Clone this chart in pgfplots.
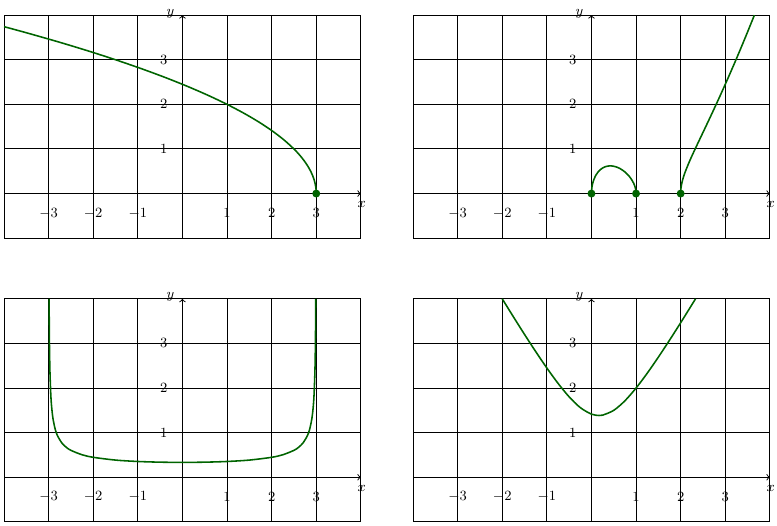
\documentclass[border=0pt]{standalone}
\usepackage{pgfplots}
\pgfplotsset{compat=1.18}
\definecolor{curve}{RGB}{0,100,0}
\pgfplotsset{
  panel/.style={
    x=1cm, y=1cm,
    xmin=-4, xmax=4, ymin=-1, ymax=4,
    clip=false,
    axis lines=middle,
    axis line style={line width=0.6pt, ->},
    xtick={-4,...,4}, ytick={-1,...,4},
    xticklabels={,$-3$,$-2$,$-1$,,$1$,$2$,$3$,},
    yticklabels={,,$1$,$2$,$3$,},
    major tick length=0pt,
    grid=major,
    grid style={black, line width=0.6pt},
    tick label style={font=\small},
    xticklabel style={anchor=center, yshift=-0.44cm},
    yticklabel style={anchor=center, xshift=-0.42cm},
    every axis plot/.append style={color=curve, line width=1pt},
  },
  dot/.style={only marks, mark=*, mark size=2pt, color=curve, mark options={fill=curve}},
}
\newcommand{\axlabels}{%
  \node[font=\small] at (axis cs:4.02,-0.25) {$x$};
  \node[font=\small] at (axis cs:-0.27,4.04) {$y$};
}
\begin{document}
\begin{tikzpicture}
% top left
\begin{axis}[panel, at={(0cm,6.36cm)}, anchor=south west]
\addplot[smooth] coordinates {
(-4,3.742) (-3.48,3.6) (-2.78,3.4) (-2.12,3.2) (-1.5,3.0) (-0.92,2.8) (-0.38,2.6)
(0.12,2.4) (0.58,2.2) (1,2.0) (1.38,1.8) (1.72,1.6) (2.02,1.4) (2.28,1.2) (2.5,1.0)
(2.595,0.9) (2.68,0.8) (2.755,0.7) (2.82,0.6) (2.875,0.5) (2.92,0.4) (2.955,0.3)
(2.98,0.2) (2.995,0.1) (3,0)};
\addplot[dot] coordinates {(3,0)};
\axlabels
\end{axis}
% top right
\begin{axis}[panel, at={(9.17cm,6.36cm)}, anchor=south west]
\addplot[smooth] coordinates {
(0,0) (0.01,0.1404) (0.025,0.2194) (0.05,0.3043) (0.1,0.4135) (0.15,0.4857)
(0.2,0.5367) (0.25,0.5728) (0.3,0.5975) (0.35,0.6127) (0.4,0.6197) (0.45,0.6194)
(0.5,0.6124) (0.55,0.5991) (0.6,0.5797) (0.65,0.5542) (0.7,0.5225) (0.75,0.4841)
(0.8,0.4382) (0.85,0.3829) (0.9,0.3146) (0.95,0.2233) (0.975,0.1581) (0.99,0.1) (1,0)};
\addplot[smooth] coordinates {
(2,0) (2.005,0.1004) (2.02,0.2030) (2.05,0.3281) (2.1,0.4806) (2.2,0.7266)
(2.3,0.9471) (2.4,1.1593) (2.5,1.3693) (2.6,1.5799) (2.7,1.7925) (2.8,2.0080)
(2.9,2.2269) (3.0,2.4495) (3.1,2.6760) (3.2,2.9065) (3.3,3.1412) (3.4,3.3799)
(3.5,3.6228) (3.6,3.8699) (3.652,4.0)};
\addplot[dot] coordinates {(0,0) (1,0) (2,0)};
\axlabels
\end{axis}
% bottom left
\begin{axis}[panel, at={(0cm,0cm)}, anchor=south west]
\addplot[smooth] coordinates {
(-2.9896,4.0) (-2.985,3.4) (-2.98,2.8916) (-2.97,2.3629) (-2.95,1.8334) (-2.93,1.5521)
(-2.9,1.3019) (-2.85,1.0675) (-2.8,0.9285) (-2.7,0.7647) (-2.6,0.6682) (-2.5,0.6030)
(-2.25,0.5040) (-2,0.4472) (-1.5,0.3849) (-1,0.3536) (-0.5,0.3381) (0,0.3333)
(0.5,0.3381) (1,0.3536) (1.5,0.3849) (2,0.4472) (2.25,0.5040) (2.5,0.6030)
(2.6,0.6682) (2.7,0.7647) (2.8,0.9285) (2.85,1.0675) (2.9,1.3019) (2.93,1.5521)
(2.95,1.8334) (2.97,2.3629) (2.98,2.8916) (2.985,3.4) (2.9896,4.0)};
\axlabels
\end{axis}
% bottom right
\begin{axis}[panel, at={(9.17cm,0cm)}, anchor=south west]
\addplot[smooth] coordinates {
(-2,4) (-1.75,3.5969) (-1.5,3.2016) (-1.25,2.8174) (-1,2.4495) (-0.75,2.1065)
(-0.5,1.8028) (-0.25,1.5612) (0,1.4142) (0.1667,1.3844) (0.25,1.3919) (0.5,1.5)
(0.75,1.7139) (1,2) (1.25,2.3318) (1.5,2.6926) (1.75,3.0721) (2,3.4641) (2.3333,4)};
\axlabels
\end{axis}
\pgfresetboundingbox
\useasboundingbox (-0.09cm,-0.09cm) rectangle (17.33cm,11.70cm);
\end{tikzpicture}
\end{document}
